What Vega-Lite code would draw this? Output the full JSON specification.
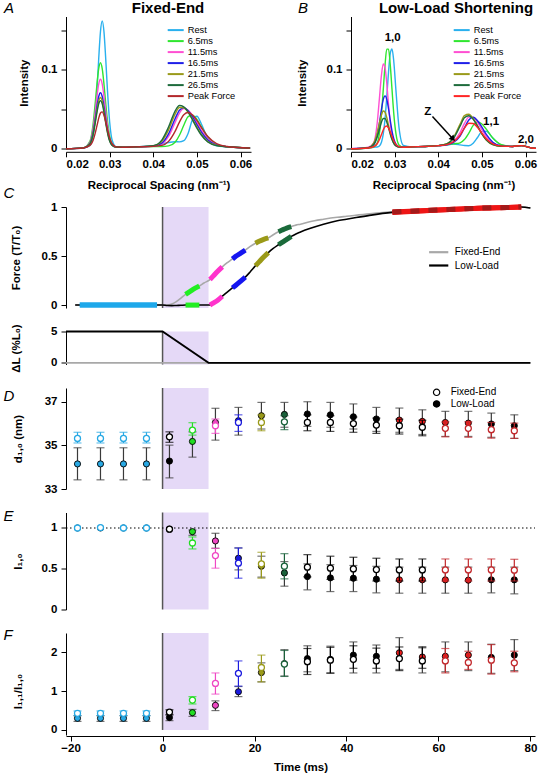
{
"$schema":"https://vega.github.io/schema/vega-lite/v6.json",
"padding":{"left":3,"top":0.5,"right":0,"bottom":0},
"background":"white",
"config":{
 "font":"Liberation Sans",
 "view":{"stroke":null},
 "axis":{"domainColor":"#000","tickColor":"#000","labelColor":"#000","titleColor":"#000","labelFont":"Liberation Sans","titleFont":"Liberation Sans","labelFontWeight":"bold","titleFontWeight":"bold","labelFontSize":11.5,"titleFontSize":11.5,"grid":false,"tickSize":5,"labelPadding":4,"domainWidth":1,"tickWidth":1},
 "legend":{"labelFont":"Liberation Sans","labelColor":"#000","labelFontWeight":"normal","padding":0},
 "title":{"font":"Liberation Sans","color":"#000"}
},
"datasets":{
"specA":[
{"q":0.02,"Rest":0,"t6":0,"t11":0,"t16":0,"t21":0,"t26":0,"PF":0},
{"q":0.024,"Rest":0.001,"t6":0.0012,"t11":0.0012,"t16":0.0012,"t21":0.0012,"t26":0.0012,"PF":0.0011},
{"q":0.0255,"Rest":0.0041,"t6":0.0098,"t11":0.0083,"t16":0.007,"t21":0.0066,"t26":0.0063,"PF":0.0043},
{"q":0.0262,"Rest":0.0159,"t6":0.0308,"t11":0.0251,"t16":0.0206,"t21":0.0189,"t26":0.0179,"PF":0.0106},
{"q":0.0267,"Rest":0.0409,"t6":0.0579,"t11":0.0469,"t16":0.038,"t21":0.0349,"t26":0.0328,"PF":0.0198},
{"q":0.0271,"Rest":0.0743,"t6":0.0821,"t11":0.0664,"t16":0.0537,"t21":0.0492,"t26":0.0462,"PF":0.0293},
{"q":0.0275,"Rest":0.1143,"t6":0.1015,"t11":0.082,"t16":0.0662,"t21":0.0606,"t26":0.0569,"PF":0.0388},
{"q":0.0279,"Rest":0.1484,"t6":0.109,"t11":0.088,"t16":0.071,"t21":0.065,"t26":0.061,"PF":0.0453},
{"q":0.0283,"Rest":0.162,"t6":0.1015,"t11":0.082,"t16":0.0662,"t21":0.0606,"t26":0.0569,"PF":0.0468},
{"q":0.0287,"Rest":0.1484,"t6":0.0821,"t11":0.0664,"t16":0.0537,"t21":0.0492,"t26":0.0462,"PF":0.0426},
{"q":0.0291,"Rest":0.1143,"t6":0.0579,"t11":0.0469,"t16":0.038,"t21":0.0349,"t26":0.0328,"PF":0.0342},
{"q":0.0295,"Rest":0.0743,"t6":0.0357,"t11":0.0291,"t16":0.0237,"t21":0.0218,"t26":0.0206,"PF":0.0244},
{"q":0.03,"Rest":0.0342,"t6":0.0164,"t11":0.0136,"t16":0.0113,"t21":0.0105,"t26":0.01,"PF":0.0138},
{"q":0.0306,"Rest":0.0105,"t6":0.006,"t11":0.0052,"t16":0.0046,"t21":0.0043,"t26":0.0042,"PF":0.0061},
{"q":0.0315,"Rest":0.0025,"t6":0.0023,"t11":0.0023,"t16":0.0022,"t21":0.0022,"t26":0.0022,"PF":0.0025},
{"q":0.033,"Rest":0.002,"t6":0.002,"t11":0.002,"t16":0.002,"t21":0.002,"t26":0.002,"PF":0.002},
{"q":0.036,"Rest":0.0025,"t6":0.0025,"t11":0.0025,"t16":0.0025,"t21":0.0025,"t26":0.0026,"PF":0.0025},
{"q":0.04,"Rest":0.0038,"t6":0.003,"t11":0.0032,"t16":0.0034,"t21":0.0037,"t26":0.004,"PF":0.0031},
{"q":0.042,"Rest":0.0059,"t6":0.003,"t11":0.0063,"t16":0.0075,"t21":0.0098,"t26":0.0114,"PF":0.0043},
{"q":0.0435,"Rest":0.008,"t6":0.0037,"t11":0.0156,"t16":0.0189,"t21":0.024,"t26":0.0275,"PF":0.0094},
{"q":0.045,"Rest":0.009,"t6":0.0084,"t11":0.0335,"t16":0.0381,"t21":0.0439,"t26":0.0478,"PF":0.0221},
{"q":0.046,"Rest":0.0088,"t6":0.0172,"t11":0.0453,"t16":0.0489,"t21":0.0522,"t26":0.0548,"PF":0.0338},
{"q":0.047,"Rest":0.0103,"t6":0.0299,"t11":0.051,"t16":0.0519,"t21":0.052,"t26":0.0532,"PF":0.0432},
{"q":0.048,"Rest":0.0198,"t6":0.0408,"t11":0.0488,"t16":0.0482,"t21":0.0464,"t26":0.0464,"PF":0.0459},
{"q":0.049,"Rest":0.0368,"t6":0.0425,"t11":0.0423,"t16":0.0404,"t21":0.0374,"t26":0.0366,"PF":0.0427},
{"q":0.05,"Rest":0.0412,"t6":0.0372,"t11":0.0331,"t16":0.0307,"t21":0.0274,"t26":0.0263,"PF":0.0359},
{"q":0.051,"Rest":0.0317,"t6":0.0282,"t11":0.0236,"t16":0.0214,"t21":0.0185,"t26":0.0175,"PF":0.0273},
{"q":0.0525,"Rest":0.0128,"t6":0.0148,"t11":0.0124,"t16":0.0111,"t21":0.0093,"t26":0.0087,"PF":0.0156},
{"q":0.0545,"Rest":0.0037,"t6":0.0055,"t11":0.0053,"t16":0.0048,"t21":0.0044,"t26":0.0041,"PF":0.0067},
{"q":0.057,"Rest":0.0025,"t6":0.0026,"t11":0.0027,"t16":0.0026,"t21":0.0026,"t26":0.0026,"PF":0.0029},
{"q":0.0615,"Rest":0.001,"t6":0.001,"t11":0.001,"t16":0.001,"t21":0.001,"t26":0.001,"PF":0.001},
{"q":0.0622,"Rest":0.0008,"t6":0.0008,"t11":0.0008,"t16":0.0008,"t21":0.0008,"t26":0.0008,"PF":0.0008}
],
"specB":[
{"q":0.02,"Rest":0,"t6":0,"t11":0,"t16":0,"t21":0,"t26":0,"PF":0},
{"q":0.024,"Rest":0.001,"t6":0.001,"t11":0.0021,"t16":0.0013,"t21":0.0015,"t26":0.0014,"PF":0.0011},
{"q":0.0252,"Rest":0.002,"t6":0.0024,"t11":0.0076,"t16":0.005,"t21":0.0072,"t26":0.0054,"PF":0.0028},
{"q":0.026,"Rest":0.0023,"t6":0.0072,"t11":0.0324,"t16":0.017,"t21":0.0202,"t26":0.0149,"PF":0.0064},
{"q":0.0265,"Rest":0.0036,"t6":0.0191,"t11":0.0631,"t16":0.0322,"t21":0.0325,"t26":0.0245,"PF":0.0114},
{"q":0.027,"Rest":0.0086,"t6":0.0449,"t11":0.0943,"t16":0.0507,"t21":0.0435,"t26":0.0339,"PF":0.0184},
{"q":0.0274,"Rest":0.0189,"t6":0.0752,"t11":0.1074,"t16":0.0625,"t21":0.0478,"t26":0.0384,"PF":0.0241},
{"q":0.0278,"Rest":0.0379,"t6":0.106,"t11":0.1028,"t16":0.067,"t21":0.0463,"t26":0.0384,"PF":0.028},
{"q":0.0282,"Rest":0.0659,"t6":0.1262,"t11":0.0828,"t16":0.0625,"t21":0.0396,"t26":0.0339,"PF":0.0289},
{"q":0.0286,"Rest":0.0973,"t6":0.1262,"t11":0.0562,"t16":0.0507,"t21":0.0299,"t26":0.0265,"PF":0.0264},
{"q":0.029,"Rest":0.1209,"t6":0.106,"t11":0.0324,"t16":0.0359,"t21":0.0202,"t26":0.0185,"PF":0.0213},
{"q":0.0294,"Rest":0.1263,"t6":0.0752,"t11":0.0163,"t16":0.0225,"t21":0.0124,"t26":0.0117,"PF":0.0154},
{"q":0.0298,"Rest":0.1109,"t6":0.0449,"t11":0.0076,"t16":0.0127,"t21":0.0072,"t26":0.007,"PF":0.0102},
{"q":0.0303,"Rest":0.074,"t6":0.0191,"t11":0.0034,"t16":0.0058,"t21":0.0038,"t26":0.0038,"PF":0.0056},
{"q":0.031,"Rest":0.0271,"t6":0.005,"t11":0.0021,"t16":0.0026,"t21":0.0023,"t26":0.0023,"PF":0.0028},
{"q":0.032,"Rest":0.0043,"t6":0.002,"t11":0.002,"t16":0.002,"t21":0.002,"t26":0.002,"PF":0.002},
{"q":0.034,"Rest":0.0025,"t6":0.0025,"t11":0.0025,"t16":0.0025,"t21":0.0025,"t26":0.0025,"PF":0.0025},
{"q":0.037,"Rest":0.003,"t6":0.003,"t11":0.003,"t16":0.003,"t21":0.003,"t26":0.003,"PF":0.003},
{"q":0.04,"Rest":0.004,"t6":0.004,"t11":0.004,"t16":0.004,"t21":0.004,"t26":0.004,"PF":0.004},
{"q":0.042,"Rest":0.005,"t6":0.005,"t11":0.0054,"t16":0.0052,"t21":0.0064,"t26":0.0061,"PF":0.0053},
{"q":0.0435,"Rest":0.006,"t6":0.0063,"t11":0.0096,"t16":0.0081,"t21":0.0144,"t26":0.0133,"PF":0.0089},
{"q":0.045,"Rest":0.005,"t6":0.0076,"t11":0.0206,"t16":0.016,"t21":0.0312,"t26":0.0287,"PF":0.0173},
{"q":0.046,"Rest":0.0041,"t6":0.0117,"t11":0.0321,"t16":0.0265,"t21":0.042,"t26":0.0393,"PF":0.0262},
{"q":0.047,"Rest":0.0039,"t6":0.0197,"t11":0.0401,"t16":0.0365,"t21":0.0437,"t26":0.0419,"PF":0.0323},
{"q":0.048,"Rest":0.007,"t6":0.0296,"t11":0.0398,"t16":0.0399,"t21":0.0384,"t26":0.0374,"PF":0.0321},
{"q":0.049,"Rest":0.0143,"t6":0.034,"t11":0.0334,"t16":0.0356,"t21":0.0289,"t26":0.0286,"PF":0.027},
{"q":0.05,"Rest":0.0218,"t6":0.0314,"t11":0.0241,"t16":0.0273,"t21":0.0189,"t26":0.019,"PF":0.0197},
{"q":0.051,"Rest":0.0222,"t6":0.0249,"t11":0.0154,"t16":0.0182,"t21":0.0112,"t26":0.0114,"PF":0.0128},
{"q":0.0525,"Rest":0.0138,"t6":0.0137,"t11":0.007,"t16":0.0084,"t21":0.0052,"t26":0.0053,"PF":0.0062},
{"q":0.0545,"Rest":0.0047,"t6":0.0052,"t11":0.0035,"t16":0.0037,"t21":0.0032,"t26":0.0032,"PF":0.0034},
{"q":0.057,"Rest":0.003,"t6":0.003,"t11":0.003,"t16":0.003,"t21":0.003,"t26":0.003,"PF":0.003},
{"q":0.059,"Rest":0.004,"t6":0.004,"t11":0.004,"t16":0.004,"t21":0.004,"t26":0.004,"PF":0.004},
{"q":0.0615,"Rest":0.001,"t6":0.001,"t11":0.001,"t16":0.001,"t21":0.001,"t26":0.001,"PF":0.001},
{"q":0.0624,"Rest":0.0005,"t6":0.0005,"t11":0.0005,"t16":0.0005,"t21":0.0005,"t26":0.0005,"PF":0.0005}
],
"force":[
{"t":-19,"fe":0,"ll":0},
{"t":-18,"fe":0,"ll":0,"seg":"Rest"},
{"t":-10,"fe":0,"ll":0,"seg":"Rest"},
{"t":-1.2,"fe":0,"ll":0,"seg":"Rest"},
{"t":0,"fe":0,"ll":0},
{"t":1,"fe":0,"ll":-0.005},
{"t":2,"fe":0.01,"ll":-0.006},
{"t":3,"fe":0.035,"ll":-0.004},
{"t":4,"fe":0.07,"ll":-0.002},
{"t":5,"fe":0.11,"ll":0,"seg":"t6"},
{"t":6,"fe":0.14,"ll":0,"seg":"t6"},
{"t":7,"fe":0.17,"ll":0,"seg":"t6"},
{"t":8,"fe":0.195,"ll":0,"seg":"t6"},
{"t":9,"fe":0.225,"ll":0},
{"t":10.3,"fe":0.26,"ll":0,"seg":"t11"},
{"t":11,"fe":0.295,"ll":0.02,"seg":"t11"},
{"t":12,"fe":0.345,"ll":0.05,"seg":"t11"},
{"t":13,"fe":0.39,"ll":0.09,"seg":"t11"},
{"t":14,"fe":0.43,"ll":0.13},
{"t":15.2,"fe":0.47,"ll":0.175,"seg":"t16"},
{"t":16,"fe":0.5,"ll":0.205,"seg":"t16"},
{"t":17,"fe":0.53,"ll":0.245,"seg":"t16"},
{"t":18,"fe":0.56,"ll":0.285,"seg":"t16"},
{"t":19,"fe":0.595,"ll":0.335},
{"t":20.2,"fe":0.63,"ll":0.4,"seg":"t21"},
{"t":21,"fe":0.65,"ll":0.44,"seg":"t21"},
{"t":22,"fe":0.67,"ll":0.49,"seg":"t21"},
{"t":23,"fe":0.685,"ll":0.535,"seg":"t21"},
{"t":24,"fe":0.715,"ll":0.575},
{"t":25.2,"fe":0.748,"ll":0.615,"seg":"t26"},
{"t":26,"fe":0.765,"ll":0.64,"seg":"t26"},
{"t":27,"fe":0.785,"ll":0.67,"seg":"t26"},
{"t":28,"fe":0.8,"ll":0.7,"seg":"t26"},
{"t":29,"fe":0.815,"ll":0.725},
{"t":30,"fe":0.825,"ll":0.745},
{"t":32,"fe":0.85,"ll":0.78},
{"t":35,"fe":0.875,"ll":0.825},
{"t":38,"fe":0.895,"ll":0.86},
{"t":40,"fe":0.905,"ll":0.875},
{"t":45,"fe":0.93,"ll":0.915},
{"t":50,"fe":0.95,"ll":0.945,"seg":"PF"},
{"t":55,"fe":0.96,"ll":0.957,"seg":"PF"},
{"t":60,"fe":0.97,"ll":0.97,"seg":"PF"},
{"t":65,"fe":0.98,"ll":0.98,"seg":"PF"},
{"t":70,"fe":0.99,"ll":0.99,"seg":"PF"},
{"t":75,"fe":0.995,"ll":0.995,"seg":"PF"},
{"t":78,"fe":1,"ll":1,"seg":"PF"},
{"t":80,"fe":0.99,"ll":0.99}
],
"dl":[
{"t":-21,"fe":0,"ll":5},{"t":0,"fe":0,"ll":5},{"t":10,"fe":0,"ll":0},{"t":80,"fe":0,"ll":0}
],
"pts":[
{"t":-18.5,"g":"FE","c":"rest","d":35.32,"d0":35.11,"d1":35.6,"e":1,"e0":null,"e1":null,"f":0.43,"f0":0.37,"f1":0.49},
{"t":-13.5,"g":"FE","c":"rest","d":35.32,"d0":35.11,"d1":35.6,"e":1.005,"e0":null,"e1":null,"f":0.43,"f0":0.37,"f1":0.49},
{"t":-8.5,"g":"FE","c":"rest","d":35.32,"d0":35.11,"d1":35.6,"e":1,"e0":null,"e1":null,"f":0.43,"f0":0.37,"f1":0.49},
{"t":-3.5,"g":"FE","c":"rest","d":35.32,"d0":35.11,"d1":35.6,"e":1,"e0":null,"e1":null,"f":0.43,"f0":0.37,"f1":0.49},
{"t":-18.5,"g":"LL","c":"rest","d":34.15,"d0":33.42,"d1":34.89,"e":1,"e0":null,"e1":null,"f":0.3,"f0":0.22,"f1":0.37},
{"t":-13.5,"g":"LL","c":"rest","d":34.15,"d0":33.42,"d1":34.89,"e":1,"e0":null,"e1":null,"f":0.3,"f0":0.22,"f1":0.37},
{"t":-8.5,"g":"LL","c":"rest","d":34.15,"d0":33.42,"d1":34.89,"e":1,"e0":null,"e1":null,"f":0.3,"f0":0.22,"f1":0.37},
{"t":-3.5,"g":"LL","c":"rest","d":34.15,"d0":33.42,"d1":34.89,"e":1,"e0":null,"e1":null,"f":0.3,"f0":0.22,"f1":0.37},
{"t":1.5,"g":"FE","c":"k","d":35.39,"d0":35.14,"d1":35.62,"e":0.985,"e0":null,"e1":null,"f":0.46,"f0":0.4,"f1":0.52},
{"t":1.5,"g":"LL","c":"k","d":34.28,"d0":33.51,"d1":35.01,"e":0.985,"e0":null,"e1":null,"f":0.32,"f0":0.24,"f1":0.38},
{"t":6.5,"g":"FE","c":"g","d":35.7,"d0":35.47,"d1":36.04,"e":0.816,"e0":0.743,"e1":0.89,"f":0.77,"f0":0.67,"f1":0.86},
{"t":6.5,"g":"LL","c":"g","d":35.18,"d0":34.46,"d1":35.62,"e":0.955,"e0":0.91,"e1":0.975,"f":0.445,"f0":0.35,"f1":0.53},
{"t":11.5,"g":"FE","c":"m","d":35.9,"d0":35.55,"d1":36.21,"e":0.661,"e0":0.507,"e1":0.75,"f":1.2,"f0":0.925,"f1":1.47},
{"t":11.5,"g":"LL","c":"m","d":36.05,"d0":35.24,"d1":36.7,"e":0.841,"e0":0.751,"e1":0.935,"f":0.635,"f0":0.5,"f1":0.75},
{"t":16.5,"g":"FE","c":"b","d":36.05,"d0":35.64,"d1":36.4,"e":0.568,"e0":0.384,"e1":0.755,"f":1.46,"f0":1.13,"f1":1.78},
{"t":16.5,"g":"LL","c":"b","d":36.13,"d0":35.47,"d1":36.74,"e":0.629,"e0":0.486,"e1":0.755,"f":0.985,"f0":0.86,"f1":1.12},
{"t":21.5,"g":"FE","c":"o","d":36.05,"d0":35.67,"d1":36.4,"e":0.559,"e0":0.384,"e1":0.702,"f":1.61,"f0":1.24,"f1":1.93},
{"t":21.5,"g":"LL","c":"o","d":36.36,"d0":35.75,"d1":36.97,"e":0.531,"e0":0.397,"e1":0.654,"f":1.48,"f0":1.24,"f1":1.73},
{"t":26.5,"g":"FE","c":"dg","d":36.08,"d0":35.72,"d1":36.36,"e":0.531,"e0":0.376,"e1":0.685,"f":1.7,"f0":1.38,"f1":2.05},
{"t":26.5,"g":"LL","c":"dg","d":36.42,"d0":35.83,"d1":36.97,"e":0.449,"e0":0.286,"e1":0.588,"f":1.71,"f0":1.39,"f1":2.07},
{"t":31.5,"g":"FE","c":"k","d":36.05,"d0":35.67,"d1":36.4,"e":0.519,"e0":0.4,"e1":0.673,"f":1.76,"f0":1.43,"f1":2.1},
{"t":31.5,"g":"LL","c":"k","d":36.44,"d0":35.87,"d1":37,"e":0.404,"e0":0.241,"e1":0.56,"f":1.84,"f0":1.5,"f1":2.17},
{"t":36.5,"g":"FE","c":"k","d":36.05,"d0":35.64,"d1":36.36,"e":0.507,"e0":0.37,"e1":0.654,"f":1.8,"f0":1.47,"f1":2.13},
{"t":36.5,"g":"LL","c":"k","d":36.4,"d0":35.83,"d1":36.97,"e":0.388,"e0":0.22,"e1":0.55,"f":1.82,"f0":1.46,"f1":2.16},
{"t":41.5,"g":"FE","c":"k","d":36,"d0":35.6,"d1":36.3,"e":0.498,"e0":0.36,"e1":0.641,"f":1.82,"f0":1.59,"f1":2.17},
{"t":41.5,"g":"LL","c":"k","d":36.31,"d0":35.75,"d1":36.9,"e":0.384,"e0":0.22,"e1":0.54,"f":1.93,"f0":1.47,"f1":2.27},
{"t":46.5,"g":"FE","c":"k","d":35.93,"d0":35.55,"d1":36.25,"e":0.49,"e0":0.35,"e1":0.629,"f":1.78,"f0":1.59,"f1":2.11},
{"t":46.5,"g":"LL","c":"k","d":36.21,"d0":35.64,"d1":36.74,"e":0.372,"e0":0.204,"e1":0.53,"f":1.9,"f0":1.47,"f1":2.19},
{"t":51.5,"g":"FE","c":"k","d":35.9,"d0":35.52,"d1":36.2,"e":0.486,"e0":0.35,"e1":0.62,"f":1.84,"f0":1.53,"f1":2.14},
{"t":51.5,"g":"LL","c":"r","d":36.16,"d0":35.6,"d1":36.71,"e":0.364,"e0":0.2,"e1":0.52,"f":1.99,"f0":1.56,"f1":2.38},
{"t":56.5,"g":"FE","c":"k","d":35.83,"d0":35.44,"d1":36.15,"e":0.486,"e0":0.35,"e1":0.62,"f":1.78,"f0":1.59,"f1":2.12},
{"t":56.5,"g":"LL","c":"r","d":36.1,"d0":35.5,"d1":36.63,"e":0.364,"e0":0.2,"e1":0.52,"f":1.88,"f0":1.47,"f1":2.15},
{"t":61.5,"g":"FE","c":"dr","d":35.78,"d0":35.39,"d1":36.08,"e":0.486,"e0":0.35,"e1":0.62,"f":1.78,"f0":1.47,"f1":2.1},
{"t":61.5,"g":"LL","c":"r","d":36.05,"d0":35.41,"d1":36.56,"e":0.364,"e0":0.2,"e1":0.52,"f":1.9,"f0":1.5,"f1":2.27},
{"t":66.5,"g":"FE","c":"dr","d":35.78,"d0":35.37,"d1":36.08,"e":0.486,"e0":0.35,"e1":0.62,"f":1.74,"f0":1.56,"f1":2.03},
{"t":66.5,"g":"LL","c":"r","d":36.02,"d0":35.41,"d1":36.56,"e":0.36,"e0":0.2,"e1":0.52,"f":1.93,"f0":1.53,"f1":2.27},
{"t":71.5,"g":"FE","c":"dr","d":35.72,"d0":35.33,"d1":36.05,"e":0.486,"e0":0.35,"e1":0.62,"f":1.8,"f0":1.44,"f1":2.2},
{"t":71.5,"g":"LL","c":"k","d":35.98,"d0":35.37,"d1":36.48,"e":0.364,"e0":0.204,"e1":0.52,"f":1.87,"f0":1.46,"f1":2.21},
{"t":76.5,"g":"FE","c":"dr","d":35.67,"d0":35.32,"d1":36.02,"e":0.482,"e0":0.35,"e1":0.616,"f":1.73,"f0":1.5,"f1":2.03},
{"t":76.5,"g":"LL","c":"k","d":35.9,"d0":35.32,"d1":36.4,"e":0.364,"e0":0.192,"e1":0.52,"f":1.93,"f0":1.53,"f1":2.33}
]
},
"resolve":{"scale":{"color":"independent","stroke":"independent","fill":"independent","shape":"independent"},"legend":{"color":"independent","stroke":"independent","fill":"independent","shape":"independent"}},
"spacing":23.5,
"bounds":"flush",
"vconcat":[
 {"width":470,"height":166.8,
  "resolve":{"scale":{"x":"independent","y":"independent","color":"independent"},"axis":{"x":"independent","y":"independent"},"legend":{"color":"independent"}},
  "layer":[
   {"data":{"name":"specA"},"transform":[{"fold":["Rest","t6","t11","t16","t21","t26","PF"],"as":["s","I"]}],
    "mark":{"type":"line","strokeWidth":1.4,"interpolate":"monotone"},
    "encoding":{
     "x":{"field":"q","type":"quantitative","scale":{"domain":[0.02,0.0624],"range":[0,185],"nice":false,"zero":false},"axis":{"orient":"bottom","values":[0.02,0.03,0.04,0.05,0.06],"format":"~g","title":"Reciprocal Spacing (nm⁻¹)","offset":-31.5,"labelPadding":2,"titlePadding":9}},
     "y":{"field":"I","type":"quantitative","scale":{"domain":[0,0.1675],"range":[132.3,0],"nice":false,"zero":false},"axis":{"orient":"left","values":[0,0.05,0.1,0.15],"labelExpr":"datum.value==0?'0':datum.value==0.1?'0.1':''","title":"Intensity","titleX":-36.7}},
     "color":{"field":"s","type":"nominal","scale":{"domain":["Rest","t6","t11","t16","t21","t26","PF"],"range":["#29b0ee","#2fe62f","#ff4fd2","#1f1fe8","#9a9a1a","#1e6b3c","#b3282b"]},
      "legend":{"orient":"none","legendX":104.7,"legendY":8.6,"title":null,"symbolType":"M-2,0H2","symbolSize":64,"symbolStrokeWidth":2,"labelFontSize":9.3,"labelOffset":7,"rowPadding":0,"labelExpr":"datum.label=='t6'?'6.5ms':datum.label=='t11'?'11.5ms':datum.label=='t16'?'16.5ms':datum.label=='t21'?'21.5ms':datum.label=='t26'?'26.5ms':datum.label=='PF'?'Peak Force':datum.label"}}
    }},
   {"data":{"values":[{}]},"mark":{"type":"text","text":"A","fontSize":15,"fontStyle":"italic","align":"left","baseline":"middle"},
    "encoding":{"x":{"datum":0.00579,"type":"quantitative","scale":{"domain":[0.02,0.0624],"range":[0,185],"nice":false,"zero":false},"axis":null},"y":{"datum":0.1785,"type":"quantitative","scale":{"domain":[0,0.1675],"range":[132.3,0],"nice":false,"zero":false},"axis":null}}},
   {"data":{"values":[{}]},"mark":{"type":"text","text":"Fixed-End","fontSize":15,"fontWeight":"bold","align":"center","baseline":"middle"},
    "encoding":{"x":{"datum":0.04338,"type":"quantitative","scale":{"domain":[0.02,0.0624],"range":[0,185],"nice":false,"zero":false},"axis":null},"y":{"datum":0.1781,"type":"quantitative","scale":{"domain":[0,0.1675],"range":[132.3,0],"nice":false,"zero":false},"axis":null}}},
   {"data":{"name":"specB"},"transform":[{"fold":["Rest","t6","t11","t16","t21","t26","PF"],"as":["s","I"]}],
    "mark":{"type":"line","strokeWidth":1.4,"interpolate":"monotone"},
    "encoding":{
     "x":{"field":"q","type":"quantitative","scale":{"domain":[0.02,0.0624],"range":[285,470],"nice":false,"zero":false},"axis":{"orient":"bottom","values":[0.02,0.03,0.04,0.05,0.06],"format":"~g","title":"Reciprocal Spacing (nm⁻¹)","offset":-31.5,"labelPadding":2,"titlePadding":9}},
     "y":{"field":"I","type":"quantitative","scale":{"domain":[0,0.1675],"range":[132.3,0],"nice":false,"zero":false},"axis":{"orient":"left","offset":-285,"values":[0,0.05,0.1,0.15],"labelExpr":"datum.value==0?'0':datum.value==0.1?'0.1':''","title":"Intensity","titleX":-44}},
     "color":{"field":"s","type":"nominal","scale":{"domain":["Rest","t6","t11","t16","t21","t26","PF"],"range":["#29b0ee","#2fe62f","#ff4fd2","#1f1fe8","#9a9a1a","#1e6b3c","#ff2525"]},
      "legend":{"orient":"none","legendX":390.7,"legendY":8.6,"title":null,"symbolType":"M-2,0H2","symbolSize":64,"symbolStrokeWidth":2,"labelFontSize":9.3,"labelOffset":7,"rowPadding":0,"labelExpr":"datum.label=='t6'?'6.5ms':datum.label=='t11'?'11.5ms':datum.label=='t16'?'16.5ms':datum.label=='t21'?'21.5ms':datum.label=='t26'?'26.5ms':datum.label=='PF'?'Peak Force':datum.label"}}
    }},
   {"data":{"values":[{"q":0.02956,"v":0.14,"lab":"1,0"},{"q":0.03758,"v":0.0472,"lab":"Z"},{"q":0.0521,"v":0.0333,"lab":"1,1"},{"q":0.0601,"v":0.0114,"lab":"2,0"}]},
    "mark":{"type":"text","fontSize":11.5,"fontWeight":"bold","align":"center","baseline":"middle"},
    "encoding":{"x":{"field":"q","type":"quantitative","scale":{"domain":[0.02,0.0624],"range":[285,470],"nice":false,"zero":false},"axis":null},"y":{"field":"v","type":"quantitative","scale":{"domain":[0,0.1675],"range":[132.3,0],"nice":false,"zero":false},"axis":null},"text":{"field":"lab"}}},
   {"data":{"values":[{"q":0.03867,"v":0.0409,"q2":0.04338,"v2":0.0125}]},"mark":{"type":"rule","color":"#000","strokeWidth":1.5},
    "encoding":{"x":{"field":"q","type":"quantitative","scale":{"domain":[0.02,0.0624],"range":[285,470],"nice":false,"zero":false},"axis":null},"y":{"field":"v","type":"quantitative","scale":{"domain":[0,0.1675],"range":[132.3,0],"nice":false,"zero":false},"axis":null},"x2":{"field":"q2"},"y2":{"field":"v2"}}},
   {"data":{"values":[{"q":0.04338,"v":0.0125}]},"mark":{"type":"point","shape":"triangle-up","filled":true,"color":"#000","size":45,"angle":137.8,"opacity":1},
    "encoding":{"x":{"field":"q","type":"quantitative","scale":{"domain":[0.02,0.0624],"range":[285,470],"nice":false,"zero":false},"axis":null},"y":{"field":"v","type":"quantitative","scale":{"domain":[0,0.1675],"range":[132.3,0],"nice":false,"zero":false},"axis":null}}},
   {"data":{"values":[{}]},"mark":{"type":"text","text":"B","fontSize":15,"fontStyle":"italic","align":"left","baseline":"middle"},
    "encoding":{"x":{"datum":0.00786,"type":"quantitative","scale":{"domain":[0.02,0.0624],"range":[285,470],"nice":false,"zero":false},"axis":null},"y":{"datum":0.1785,"type":"quantitative","scale":{"domain":[0,0.1675],"range":[132.3,0],"nice":false,"zero":false},"axis":null}}},
   {"data":{"values":[{}]},"mark":{"type":"text","text":"Low-Load Shortening","fontSize":15,"fontWeight":"bold","align":"center","baseline":"middle"},
    "encoding":{"x":{"datum":0.04407,"type":"quantitative","scale":{"domain":[0.02,0.0624],"range":[285,470],"nice":false,"zero":false},"axis":null},"y":{"datum":0.1781,"type":"quantitative","scale":{"domain":[0,0.1675],"range":[132.3,0],"nice":false,"zero":false},"axis":null}}}
  ]},
 {"width":469,"height":101,
  "layer":[
   {"data":{"values":[{}]},"mark":{"type":"rect","color":"#e5d9f7"},
    "encoding":{"x":{"datum":0,"type":"quantitative","scale":{"domain":[-21,81],"nice":false,"zero":false},"axis":null},"x2":{"datum":10},"y":{"datum":1,"type":"quantitative","scale":{"domain":[-0.03,1],"nice":false,"zero":false},"axis":{"values":[0,0.5,1],"format":"~g","title":"Force (T/T₀)","titleX":-44.4}},"y2":{"datum":-0.03}}},
   {"data":{"values":[{}]},"mark":{"type":"rule","color":"#555","strokeWidth":1.5},
    "encoding":{"x":{"datum":0,"type":"quantitative","scale":{"domain":[-21,81],"nice":false,"zero":false},"axis":null},"y":{"datum":1,"type":"quantitative","scale":{"domain":[-0.03,1],"nice":false,"zero":false}},"y2":{"datum":-0.03}}},
   {"data":{"name":"force"},"transform":[{"fold":["fe","ll"],"as":["k","v"]}],"mark":{"type":"line","strokeWidth":1.6,"interpolate":"monotone"},
    "encoding":{"x":{"field":"t","type":"quantitative","scale":{"domain":[-21,81],"nice":false,"zero":false},"axis":null},"y":{"field":"v","type":"quantitative","scale":{"domain":[-0.03,1],"nice":false,"zero":false}},
     "stroke":{"field":"k","type":"nominal","scale":{"domain":["fe","ll"],"range":["#a8a8a8","#000000"]},
      "legend":{"orient":"none","legendX":367.2,"legendY":39.7,"title":null,"symbolType":"M-2.4,0H2.4","symbolSize":64,"symbolStrokeWidth":2.2,"labelFontSize":10,"labelOffset":10.6,"rowPadding":2.3,"labelExpr":"datum.label=='fe'?'Fixed-End':'Low-Load'"}}}},
   {"data":{"name":"force"},"transform":[{"filter":"datum.seg"},{"fold":["fe","ll"],"as":["k","v"]}],"mark":{"type":"line","strokeWidth":5,"strokeCap":"butt","interpolate":"monotone"},
    "encoding":{"x":{"field":"t","type":"quantitative","scale":{"domain":[-21,81],"nice":false,"zero":false},"axis":null},"y":{"field":"v","type":"quantitative","scale":{"domain":[-0.03,1],"nice":false,"zero":false}},
     "color":{"field":"seg","type":"nominal","scale":{"domain":["Rest","t6","t11","t16","t21","t26","PF"],"range":["#1ea8ea","#22ee22","#ff33cc","#1515f0","#9b9a18","#1a6a3a","#ee1515"]},"legend":null},"detail":{"field":"k"}}},
   {"data":{"name":"force"},"transform":[{"filter":"datum.seg==='PF'"}],"mark":{"type":"line","strokeWidth":5,"strokeCap":"butt","color":"#a31a1a","strokeDash":[9,9],"interpolate":"monotone"},
    "encoding":{"x":{"field":"t","type":"quantitative","scale":{"domain":[-21,81],"nice":false,"zero":false},"axis":null},"y":{"field":"fe","type":"quantitative","scale":{"domain":[-0.03,1],"nice":false,"zero":false}}}},
   {"data":{"values":[{}]},"mark":{"type":"text","text":"C","fontSize":15,"fontStyle":"italic","align":"left","baseline":"middle"},
    "encoding":{"x":{"datum":-34.57,"type":"quantitative","scale":{"domain":[-21,81],"nice":false,"zero":false},"axis":null},"y":{"datum":1.143,"type":"quantitative","scale":{"domain":[-0.03,1],"nice":false,"zero":false}}}}
  ]},
 {"width":469,"height":33,
  "layer":[
   {"data":{"values":[{}]},"mark":{"type":"rect","color":"#e5d9f7"},
    "encoding":{"x":{"datum":0,"type":"quantitative","scale":{"domain":[-21,81],"nice":false,"zero":false},"axis":null},"x2":{"datum":10},"y":{"datum":5,"type":"quantitative","scale":{"domain":[-0.27,5],"nice":false,"zero":false},"axis":{"values":[0,5],"format":"~g","title":"ΔL (%L₀)","titleX":-44.4}},"y2":{"datum":-0.27}}},
   {"data":{"values":[{}]},"mark":{"type":"rule","color":"#555","strokeWidth":1.5},
    "encoding":{"x":{"datum":0,"type":"quantitative","scale":{"domain":[-21,81],"nice":false,"zero":false},"axis":null},"y":{"datum":5,"type":"quantitative","scale":{"domain":[-0.27,5],"nice":false,"zero":false}},"y2":{"datum":-0.27}}},
   {"data":{"name":"dl"},"transform":[{"fold":["fe","ll"],"as":["k","v"]}],"mark":{"type":"line","strokeWidth":1.8},
    "encoding":{"x":{"field":"t","type":"quantitative","scale":{"domain":[-21,81],"nice":false,"zero":false},"axis":null},"y":{"field":"v","type":"quantitative","scale":{"domain":[-0.27,5],"nice":false,"zero":false}},
     "stroke":{"field":"k","type":"nominal","scale":{"domain":["fe","ll"],"range":["#a8a8a8","#000000"]},"legend":null}}}
  ]},
 {"width":469,"height":101,
  "layer":[
   {"data":{"values":[{}]},"mark":{"type":"rect","color":"#e5d9f7"},
    "encoding":{"x":{"datum":0,"type":"quantitative","scale":{"domain":[-21,81],"nice":false,"zero":false},"axis":null},"x2":{"datum":10},"y":{"datum":37.63,"type":"quantitative","scale":{"domain":[33,37.63],"nice":false,"zero":false},"axis":{"values":[33,35,37],"format":"~g","title":"d₁,₀ (nm)","titleX":-43}},"y2":{"datum":33}}},
   {"data":{"values":[{}]},"mark":{"type":"rule","color":"#555","strokeWidth":1.5},
    "encoding":{"x":{"datum":0,"type":"quantitative","scale":{"domain":[-21,81],"nice":false,"zero":false},"axis":null},"y":{"datum":37.63,"type":"quantitative","scale":{"domain":[33,37.63],"nice":false,"zero":false}},"y2":{"datum":33}}},
   {"data":{"name":"pts"},"transform":[{"filter":"datum.g=='LL'"}],"mark":{"type":"rule","color":"#3a3a3a","strokeWidth":1.2},
    "encoding":{"x":{"field":"t","type":"quantitative","scale":{"domain":[-21,81],"nice":false,"zero":false},"axis":null},"y":{"field":"d0","type":"quantitative","scale":{"domain":[33,37.63],"nice":false,"zero":false}},"y2":{"field":"d1"}}},
   {"data":{"name":"pts"},"transform":[{"filter":"datum.g=='LL'"},{"fold":["d0","d1"],"as":["k","v"]}],"mark":{"type":"tick","orient":"horizontal","size":8,"thickness":1.2,"color":"#3a3a3a"},
    "encoding":{"x":{"field":"t","type":"quantitative","scale":{"domain":[-21,81],"nice":false,"zero":false},"axis":null},"y":{"field":"v","type":"quantitative","scale":{"domain":[33,37.63],"nice":false,"zero":false}}}},
   {"data":{"name":"pts"},"transform":[{"filter":"datum.g=='LL'"}],"mark":{"type":"point","shape":"circle","filled":true,"size":38,"stroke":"#000","strokeWidth":0.9,"opacity":1},
    "encoding":{"x":{"field":"t","type":"quantitative","scale":{"domain":[-21,81],"nice":false,"zero":false},"axis":null},"y":{"field":"d","type":"quantitative","scale":{"domain":[33,37.63],"nice":false,"zero":false}},
     "fill":{"field":"c","type":"nominal","scale":{"domain":["rest","k","g","m","b","o","dg","r","dr"],"range":["#29a9e4","#000000","#22dd22","#ef48c4","#1c1cde","#9a9a1a","#1a613a","#ee1b1b","#c2282c"]},"legend":null}}},
   {"data":{"name":"pts"},"transform":[{"filter":"datum.g=='FE'"}],"mark":{"type":"rule","strokeWidth":1.2},
    "encoding":{"x":{"field":"t","type":"quantitative","scale":{"domain":[-21,81],"nice":false,"zero":false},"axis":null},"y":{"field":"d0","type":"quantitative","scale":{"domain":[33,37.63],"nice":false,"zero":false}},"y2":{"field":"d1"},
     "color":{"field":"c","type":"nominal","scale":{"domain":["rest","k","g","m","b","o","dg","r","dr"],"range":["#29a9e4","#000000","#22dd22","#ef48c4","#1c1cde","#9a9a1a","#1a613a","#ee1b1b","#c2282c"]},"legend":null}}},
   {"data":{"name":"pts"},"transform":[{"filter":"datum.g=='FE'"},{"fold":["d0","d1"],"as":["k","v"]}],"mark":{"type":"tick","orient":"horizontal","size":8,"thickness":1.2},
    "encoding":{"x":{"field":"t","type":"quantitative","scale":{"domain":[-21,81],"nice":false,"zero":false},"axis":null},"y":{"field":"v","type":"quantitative","scale":{"domain":[33,37.63],"nice":false,"zero":false}},
     "color":{"field":"c","type":"nominal","scale":{"domain":["rest","k","g","m","b","o","dg","r","dr"],"range":["#29a9e4","#000000","#22dd22","#ef48c4","#1c1cde","#9a9a1a","#1a613a","#ee1b1b","#c2282c"]},"legend":null}}},
   {"data":{"name":"pts"},"transform":[{"filter":"datum.g=='FE'"}],"mark":{"type":"point","shape":"circle","filled":true,"fill":"#fff","size":36,"strokeWidth":1.3,"opacity":1},
    "encoding":{"x":{"field":"t","type":"quantitative","scale":{"domain":[-21,81],"nice":false,"zero":false},"axis":null},"y":{"field":"d","type":"quantitative","scale":{"domain":[33,37.63],"nice":false,"zero":false}},
     "stroke":{"field":"c","type":"nominal","scale":{"domain":["rest","k","g","m","b","o","dg","r","dr"],"range":["#29a9e4","#000000","#22dd22","#ef48c4","#1c1cde","#9a9a1a","#1a613a","#ee1b1b","#c2282c"]},"legend":null}}},
   {"data":{"values":[{}]},"mark":{"type":"point","shape":"circle","filled":true,"fill":"#fff","stroke":"#000","size":40,"strokeWidth":1.2,"opacity":1},
    "encoding":{"x":{"datum":59.6,"type":"quantitative","scale":{"domain":[-21,81],"nice":false,"zero":false},"axis":null},"y":{"datum":37.43,"type":"quantitative","scale":{"domain":[33,37.63],"nice":false,"zero":false}}}},
   {"data":{"values":[{}]},"mark":{"type":"point","shape":"circle","filled":true,"fill":"#000","stroke":"#000","size":40,"strokeWidth":1.2,"opacity":1},
    "encoding":{"x":{"datum":59.6,"type":"quantitative","scale":{"domain":[-21,81],"nice":false,"zero":false},"axis":null},"y":{"datum":36.9,"type":"quantitative","scale":{"domain":[33,37.63],"nice":false,"zero":false}}}},
   {"data":{"values":[{}]},"mark":{"type":"text","text":"Fixed-End","fontSize":10,"align":"left","baseline":"middle"},
    "encoding":{"x":{"datum":62.65,"type":"quantitative","scale":{"domain":[-21,81],"nice":false,"zero":false},"axis":null},"y":{"datum":37.43,"type":"quantitative","scale":{"domain":[33,37.63],"nice":false,"zero":false}}}},
   {"data":{"values":[{}]},"mark":{"type":"text","text":"Low-Load","fontSize":10,"align":"left","baseline":"middle"},
    "encoding":{"x":{"datum":62.65,"type":"quantitative","scale":{"domain":[-21,81],"nice":false,"zero":false},"axis":null},"y":{"datum":36.9,"type":"quantitative","scale":{"domain":[33,37.63],"nice":false,"zero":false}}}},
   {"data":{"values":[{}]},"mark":{"type":"text","text":"D","fontSize":15,"fontStyle":"italic","align":"left","baseline":"middle"},
    "encoding":{"x":{"datum":-34.57,"type":"quantitative","scale":{"domain":[-21,81],"nice":false,"zero":false},"axis":null},"y":{"datum":37.28,"type":"quantitative","scale":{"domain":[33,37.63],"nice":false,"zero":false}}}}
  ]},
 {"width":469,"height":97,
  "layer":[
   {"data":{"values":[{}]},"mark":{"type":"rect","color":"#e5d9f7"},
    "encoding":{"x":{"datum":0,"type":"quantitative","scale":{"domain":[-21,81],"nice":false,"zero":false},"axis":null},"x2":{"datum":10},"y":{"datum":1.19,"type":"quantitative","scale":{"domain":[0,1.19],"nice":false,"zero":false},"axis":{"values":[0,0.5,1],"format":"~g","title":"I₁,₀","titleX":-43}},"y2":{"datum":0}}},
   {"data":{"values":[{}]},"mark":{"type":"rule","color":"#555","strokeWidth":1.5},
    "encoding":{"x":{"datum":0,"type":"quantitative","scale":{"domain":[-21,81],"nice":false,"zero":false},"axis":null},"y":{"datum":1.19,"type":"quantitative","scale":{"domain":[0,1.19],"nice":false,"zero":false}},"y2":{"datum":0}}},
   {"data":{"values":[{}]},"mark":{"type":"rule","color":"#000","strokeWidth":1.2,"strokeDash":[1.5,2.5]},
    "encoding":{"x":{"datum":-21,"type":"quantitative","scale":{"domain":[-21,81],"nice":false,"zero":false},"axis":null},"x2":{"datum":81},"y":{"datum":1,"type":"quantitative","scale":{"domain":[0,1.19],"nice":false,"zero":false}}}},
   {"data":{"name":"pts"},"transform":[{"filter":"datum.g=='LL'"}],"mark":{"type":"rule","color":"#3a3a3a","strokeWidth":1.2},
    "encoding":{"x":{"field":"t","type":"quantitative","scale":{"domain":[-21,81],"nice":false,"zero":false},"axis":null},"y":{"field":"e0","type":"quantitative","scale":{"domain":[0,1.19],"nice":false,"zero":false}},"y2":{"field":"e1"}}},
   {"data":{"name":"pts"},"transform":[{"filter":"datum.g=='LL'"},{"fold":["e0","e1"],"as":["k","v"]}],"mark":{"type":"tick","orient":"horizontal","size":8,"thickness":1.2,"color":"#3a3a3a"},
    "encoding":{"x":{"field":"t","type":"quantitative","scale":{"domain":[-21,81],"nice":false,"zero":false},"axis":null},"y":{"field":"v","type":"quantitative","scale":{"domain":[0,1.19],"nice":false,"zero":false}}}},
   {"data":{"name":"pts"},"transform":[{"filter":"datum.g=='LL'"}],"mark":{"type":"point","shape":"circle","filled":true,"size":38,"stroke":"#000","strokeWidth":0.9,"opacity":1},
    "encoding":{"x":{"field":"t","type":"quantitative","scale":{"domain":[-21,81],"nice":false,"zero":false},"axis":null},"y":{"field":"e","type":"quantitative","scale":{"domain":[0,1.19],"nice":false,"zero":false}},
     "fill":{"field":"c","type":"nominal","scale":{"domain":["rest","k","g","m","b","o","dg","r","dr"],"range":["#29a9e4","#000000","#22dd22","#ef48c4","#1c1cde","#9a9a1a","#1a613a","#ee1b1b","#c2282c"]},"legend":null}}},
   {"data":{"name":"pts"},"transform":[{"filter":"datum.g=='FE'"}],"mark":{"type":"rule","strokeWidth":1.2},
    "encoding":{"x":{"field":"t","type":"quantitative","scale":{"domain":[-21,81],"nice":false,"zero":false},"axis":null},"y":{"field":"e0","type":"quantitative","scale":{"domain":[0,1.19],"nice":false,"zero":false}},"y2":{"field":"e1"},
     "color":{"field":"c","type":"nominal","scale":{"domain":["rest","k","g","m","b","o","dg","r","dr"],"range":["#29a9e4","#000000","#22dd22","#ef48c4","#1c1cde","#9a9a1a","#1a613a","#ee1b1b","#c2282c"]},"legend":null}}},
   {"data":{"name":"pts"},"transform":[{"filter":"datum.g=='FE'"},{"fold":["e0","e1"],"as":["k","v"]}],"mark":{"type":"tick","orient":"horizontal","size":8,"thickness":1.2},
    "encoding":{"x":{"field":"t","type":"quantitative","scale":{"domain":[-21,81],"nice":false,"zero":false},"axis":null},"y":{"field":"v","type":"quantitative","scale":{"domain":[0,1.19],"nice":false,"zero":false}},
     "color":{"field":"c","type":"nominal","scale":{"domain":["rest","k","g","m","b","o","dg","r","dr"],"range":["#29a9e4","#000000","#22dd22","#ef48c4","#1c1cde","#9a9a1a","#1a613a","#ee1b1b","#c2282c"]},"legend":null}}},
   {"data":{"name":"pts"},"transform":[{"filter":"datum.g=='FE'"}],"mark":{"type":"point","shape":"circle","filled":true,"fill":"#fff","size":36,"strokeWidth":1.3,"opacity":1},
    "encoding":{"x":{"field":"t","type":"quantitative","scale":{"domain":[-21,81],"nice":false,"zero":false},"axis":null},"y":{"field":"e","type":"quantitative","scale":{"domain":[0,1.19],"nice":false,"zero":false}},
     "stroke":{"field":"c","type":"nominal","scale":{"domain":["rest","k","g","m","b","o","dg","r","dr"],"range":["#29a9e4","#000000","#22dd22","#ef48c4","#1c1cde","#9a9a1a","#1a613a","#ee1b1b","#c2282c"]},"legend":null}}},
   {"data":{"values":[{}]},"mark":{"type":"text","text":"E","fontSize":15,"fontStyle":"italic","align":"left","baseline":"middle"},
    "encoding":{"x":{"datum":-34.57,"type":"quantitative","scale":{"domain":[-21,81],"nice":false,"zero":false},"axis":null},"y":{"datum":1.147,"type":"quantitative","scale":{"domain":[0,1.19],"nice":false,"zero":false}}}}
  ]},
 {"width":469,"height":102,
  "layer":[
   {"data":{"values":[{}]},"mark":{"type":"rect","color":"#e5d9f7"},
    "encoding":{"x":{"datum":0,"type":"quantitative","scale":{"domain":[-21,81],"nice":false,"zero":false},"axis":{"values":[-20,0,20,40,60,80],"format":"d","title":"Time (ms)","offset":1,"labelPadding":1,"titlePadding":8}},"x2":{"datum":10},"y":{"datum":2.5,"type":"quantitative","scale":{"domain":[-0.13,2.5],"nice":false,"zero":false},"axis":{"values":[0,1,2],"format":"d","title":"I₁,₁/I₁,₀","titleX":-43,"titleY":58}},"y2":{"datum":0}}},
   {"data":{"values":[{}]},"mark":{"type":"rule","color":"#555","strokeWidth":1.5},
    "encoding":{"x":{"datum":0,"type":"quantitative","scale":{"domain":[-21,81],"nice":false,"zero":false}},"y":{"datum":2.5,"type":"quantitative","scale":{"domain":[-0.13,2.5],"nice":false,"zero":false}},"y2":{"datum":0}}},
   {"data":{"name":"pts"},"transform":[{"filter":"datum.g=='LL'"}],"mark":{"type":"rule","color":"#3a3a3a","strokeWidth":1.2},
    "encoding":{"x":{"field":"t","type":"quantitative","scale":{"domain":[-21,81],"nice":false,"zero":false}},"y":{"field":"f0","type":"quantitative","scale":{"domain":[-0.13,2.5],"nice":false,"zero":false}},"y2":{"field":"f1"}}},
   {"data":{"name":"pts"},"transform":[{"filter":"datum.g=='LL'"},{"fold":["f0","f1"],"as":["k","v"]}],"mark":{"type":"tick","orient":"horizontal","size":8,"thickness":1.2,"color":"#3a3a3a"},
    "encoding":{"x":{"field":"t","type":"quantitative","scale":{"domain":[-21,81],"nice":false,"zero":false}},"y":{"field":"v","type":"quantitative","scale":{"domain":[-0.13,2.5],"nice":false,"zero":false}}}},
   {"data":{"name":"pts"},"transform":[{"filter":"datum.g=='LL'"}],"mark":{"type":"point","shape":"circle","filled":true,"size":38,"stroke":"#000","strokeWidth":0.9,"opacity":1},
    "encoding":{"x":{"field":"t","type":"quantitative","scale":{"domain":[-21,81],"nice":false,"zero":false}},"y":{"field":"f","type":"quantitative","scale":{"domain":[-0.13,2.5],"nice":false,"zero":false}},
     "fill":{"field":"c","type":"nominal","scale":{"domain":["rest","k","g","m","b","o","dg","r","dr"],"range":["#29a9e4","#000000","#22dd22","#ef48c4","#1c1cde","#9a9a1a","#1a613a","#ee1b1b","#c2282c"]},"legend":null}}},
   {"data":{"name":"pts"},"transform":[{"filter":"datum.g=='FE'"}],"mark":{"type":"rule","strokeWidth":1.2},
    "encoding":{"x":{"field":"t","type":"quantitative","scale":{"domain":[-21,81],"nice":false,"zero":false}},"y":{"field":"f0","type":"quantitative","scale":{"domain":[-0.13,2.5],"nice":false,"zero":false}},"y2":{"field":"f1"},
     "color":{"field":"c","type":"nominal","scale":{"domain":["rest","k","g","m","b","o","dg","r","dr"],"range":["#29a9e4","#000000","#22dd22","#ef48c4","#1c1cde","#9a9a1a","#1a613a","#ee1b1b","#c2282c"]},"legend":null}}},
   {"data":{"name":"pts"},"transform":[{"filter":"datum.g=='FE'"},{"fold":["f0","f1"],"as":["k","v"]}],"mark":{"type":"tick","orient":"horizontal","size":8,"thickness":1.2},
    "encoding":{"x":{"field":"t","type":"quantitative","scale":{"domain":[-21,81],"nice":false,"zero":false}},"y":{"field":"v","type":"quantitative","scale":{"domain":[-0.13,2.5],"nice":false,"zero":false}},
     "color":{"field":"c","type":"nominal","scale":{"domain":["rest","k","g","m","b","o","dg","r","dr"],"range":["#29a9e4","#000000","#22dd22","#ef48c4","#1c1cde","#9a9a1a","#1a613a","#ee1b1b","#c2282c"]},"legend":null}}},
   {"data":{"name":"pts"},"transform":[{"filter":"datum.g=='FE'"}],"mark":{"type":"point","shape":"circle","filled":true,"fill":"#fff","size":36,"strokeWidth":1.3,"opacity":1},
    "encoding":{"x":{"field":"t","type":"quantitative","scale":{"domain":[-21,81],"nice":false,"zero":false}},"y":{"field":"f","type":"quantitative","scale":{"domain":[-0.13,2.5],"nice":false,"zero":false}},
     "stroke":{"field":"c","type":"nominal","scale":{"domain":["rest","k","g","m","b","o","dg","r","dr"],"range":["#29a9e4","#000000","#22dd22","#ef48c4","#1c1cde","#9a9a1a","#1a613a","#ee1b1b","#c2282c"]},"legend":null}}},
   {"data":{"values":[{}]},"mark":{"type":"text","text":"F","fontSize":15,"fontStyle":"italic","align":"left","baseline":"middle"},
    "encoding":{"x":{"datum":-34.57,"type":"quantitative","scale":{"domain":[-21,81],"nice":false,"zero":false}},"y":{"datum":2.448,"type":"quantitative","scale":{"domain":[-0.13,2.5],"nice":false,"zero":false}}}}
  ]}
]
}
